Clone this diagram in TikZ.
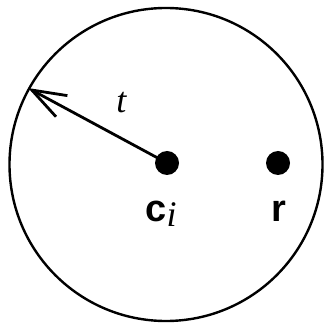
\documentclass[tikz,border=0pt]{standalone}
\usepackage{fontspec}
\setmainfont{Liberation Serif}
\newfontfamily\boldsans{Liberation Sans}
\usetikzlibrary{arrows.meta,positioning}

\begin{document}
\begin{tikzpicture}[x=0.5pt,y=-0.5pt,
    dot/.style={circle,fill=black,inner sep=0pt,minimum size=12pt},
    vec/.style={bold,font=\boldsans\bfseries\fontsize{19}{19}\selectfont},
    bold/.style={inner sep=0pt}]
        \useasboundingbox (0,0) rectangle (324,324);
        % the sphere of radius t round the centre c_i, with a point r inside
        \node[circle,draw,line width=1.2pt,minimum size=156.5pt,inner sep=0pt] (disk) at (166,164.5) {};
        \node[dot] (ci) at (167,163) {};
        \node[dot] (r) at (278,163) {};
        \draw[line width=1.4pt,-{Straight Barb[length=17pt,width=12pt]}] (ci.center) -- (disk.151);
        \node[bold,anchor=base west,font=\itshape\fontsize{18}{18}\selectfont] (t) at (116,113) {t};
        \node[vec,anchor=base west] (cilbl) at (145,222) {c\raisebox{-2pt}{\rmfamily\mdseries\itshape\fontsize{18}{18}\selectfont i}};
        \node[vec,anchor=base] (rlbl) at (279,222) {r};
      \end{tikzpicture}
\end{document}
